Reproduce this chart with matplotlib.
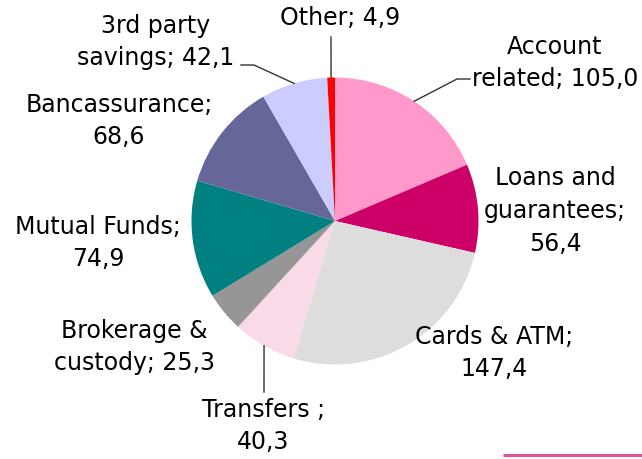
import numpy as np
import matplotlib.pyplot as plt

# commission income by product (EUR m)
categories = ["Account related", "Loans and guarantees", "Cards & ATM", "Transfers",
              "Brokerage & custody", "Mutual Funds", "Bancassurance",
              "3rd party savings", "Other"]
values = [105.0, 56.4, 147.4, 40.3, 25.3, 74.9, 68.6, 42.1, 4.9]
label_fmt = ["Account\nrelated; {}", "Loans and\nguarantees;\n{}", "Cards & ATM;\n{}",
             "Transfers ;\n{}", "Brokerage &\ncustody; {}", "Mutual Funds;\n{}",
             "Bancassurance;\n{}", "3rd party\nsavings; {}", "Other; {}"]
colors = ["#FF99CC", "#CC0066", "#DDDDDD", "#F8DAE8", "#969696",
          "#008080", "#666699", "#CCCCFF", "#FF0000"]

W, H = 642, 460
cx, cy, r = 335, 222, 143.5   # pixel coords, y from top

# label centres (px from top-left)
label_pos = [(555, 63), (555, 211), (494, 353), (263, 426), (134, 347),
             (98, 243), (119, 121), (156, 42), (340, 18)]
# leader lines: slice index -> outer points (px)
leaders = {0: [(470, 80), (457, 80)],
           3: [(264, 393)],
           7: [(241, 66), (254, 66)],
           8: [(331, 38)]}

fig = plt.figure(figsize=(W / 100, H / 100), dpi=100)
ax = fig.add_axes([0, 0, 1, 1])

wedges, _ = ax.pie(values, colors=colors, startangle=90, counterclock=False,
                   center=(cx, H - cy), radius=r, wedgeprops=dict(linewidth=0))
ax.set_xlim(0, W)
ax.set_ylim(0, H)
ax.set_aspect('equal')
ax.axis('off')

for i, (fmt, v) in enumerate(zip(label_fmt, values)):
    x, y = label_pos[i]
    txt = fmt.format(f"{v:.1f}".replace(".", ","))
    ax.text(x, H - y, txt, ha='center', va='center', fontsize=17,
            color='#000000', linespacing=1.45, family='DejaVu Sans')

for i, pts in leaders.items():
    w = wedges[i]
    a = np.deg2rad((w.theta1 + w.theta2) / 2)
    ex, ey = cx + r * np.cos(a), H - cy + r * np.sin(a)
    xs = [p[0] for p in pts] + [ex]
    ys = [H - p[1] for p in pts] + [ey]
    ax.plot(xs, ys, color='#333333', lw=1)

# pink rule bottom right
ax.plot([503, W], [H - 456, H - 456], color='#E0559A', lw=2.2, solid_capstyle='butt')

fig.savefig("out.png", dpi=100)
